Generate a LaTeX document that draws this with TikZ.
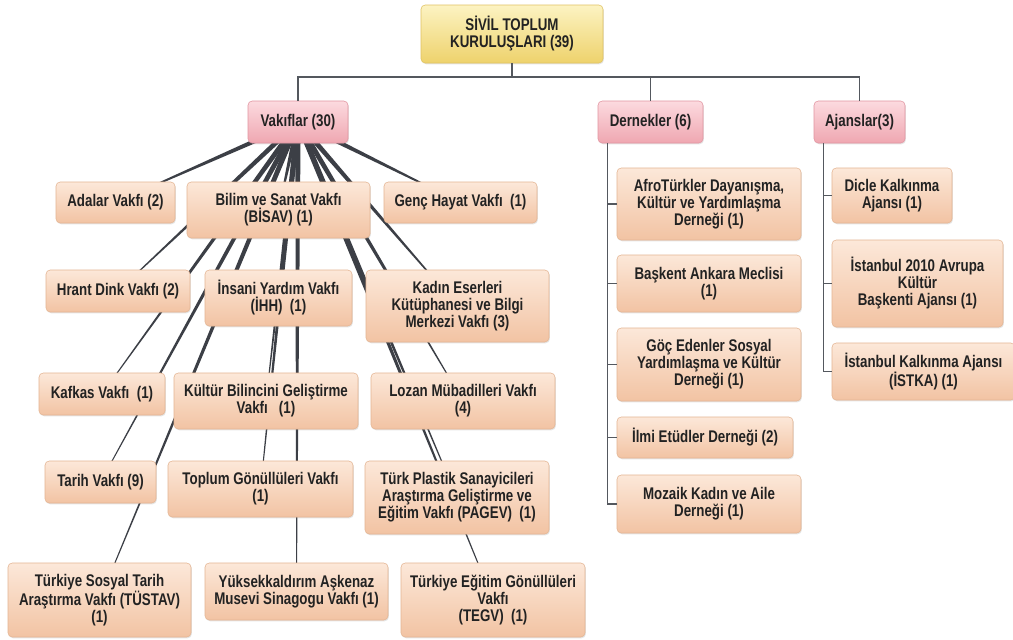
\documentclass[tikz,border=0pt]{standalone}
\usepackage{fontspec}
\setmainfont{Liberation Sans}[FakeStretch=0.79]
\usetikzlibrary{calc, shadows, backgrounds}

\definecolor{leafTop}{HTML}{FCE8D9}
\definecolor{leafBot}{HTML}{F2C3A3}
\definecolor{leafLine}{HTML}{E4B593}
\definecolor{grpTop}{HTML}{FCDADF}
\definecolor{grpBot}{HTML}{EFA7B1}
\definecolor{grpLine}{HTML}{E295A1}
\definecolor{rootTop}{HTML}{FCF3C2}
\definecolor{rootBot}{HTML}{EED26C}
\definecolor{rootLine}{HTML}{E0C262}
\definecolor{treeGray}{HTML}{54585E}
\definecolor{spokeGray}{HTML}{3C3F46}
\definecolor{inkGray}{HTML}{222222}

\begin{document}
\begin{tikzpicture}[
  x=0.025cm, y=-0.025cm,
  card/.style={rounded corners=3pt, inner sep=0pt, align=center, text=inkGray,
    font=\bfseries\fontsize{12}{12.1}\selectfont,
    drop shadow={shadow xshift=0.6pt, shadow yshift=-0.9pt, opacity=0.2}},
  sz/.style 2 args={minimum width=#1*0.025cm, minimum height=#2*0.025cm},
  root/.style={card, draw=rootLine, top color=rootTop, bottom color=rootBot},
  group/.style={card, draw=grpLine, top color=grpTop, bottom color=grpBot},
  leaf/.style={card, draw=leafLine, top color=leafTop, bottom color=leafBot},
  tree/.style={draw=treeGray, line width=0.9pt},
  spoke/.style={fill=spokeGray},
]

\useasboundingbox (0,0) rectangle (1013,639);

% =========================
% Top levels
% =========================
\node[root, sz={182}{58}] (top) at (512,34) {SİVİL TOPLUM\\KURULUŞLARI (39)};
\coordinate (hbar) at (512,77);

\node[group, sz={100}{42}] (vak) at (298,122) {Vakıflar (30)};
\node[group, sz={105}{42}] (der) at (650.5,122) {Dernekler (6)};
\node[group, sz={91}{42}]  (ajn) at (859.5,122) {Ajanslar(3)};

\draw[tree] (top.south) -- (hbar) -| (vak.north);
\draw[tree] (hbar) -| (der.north);
\draw[tree] (hbar) -| (ajn.north);

% =========================
% Vakiflar (15 children)
% =========================
\node[leaf, sz={119}{41}] (adalar) at (115.5,202.5) {Adalar Vakfı (2)};
\node[leaf, sz={183}{56}] (bisav)  at (278.5,210)   {Bilim ve Sanat Vakfı\\(BİSAV) (1)};
\node[leaf, sz={153}{41}] (genc)   at (460.5,202.5) {Genç Hayat Vakfı~ (1)};

\node[leaf, sz={144}{42}] (hrant)  at (118,291)   {Hrant Dink Vakfı (2)};
\node[leaf, sz={147}{56}] (ihh)    at (278.5,298) {İnsani Yardım Vakfı\\(İHH)~ (1)};
\node[leaf, sz={183}{72}] (kadin)  at (457.5,306) {Kadın Eserleri\\Kütüphanesi ve Bilgi\\Merkezi Vakfı (3)};

\node[leaf, sz={126}{42}] (kafkas) at (102,394) {Kafkas Vakfı~ (1)};
\node[leaf, sz={184}{56}] (kultur) at (266,401) {Kültür Bilincini Geliştirme\\Vakfı~~ (1)};
\node[leaf, sz={184}{56}] (lozan)  at (463,401) {Lozan Mübadilleri Vakfı\\(4)};

\node[leaf, sz={111}{42}] (tarih)   at (100.5,482) {Tarih Vakfı (9)};
\node[leaf, sz={185}{56}] (toplum)  at (260.5,489) {Toplum Gönüllüleri Vakfı\\(1)};
\node[leaf, sz={184}{73}] (plastik) at (457,497.5) {Türk Plastik Sanayicileri\\Araştırma Geliştirme ve\\Eğitim Vakfı (PAGEV)~ (1)};

\node[leaf, sz={183}{74}] (tustav) at (99.5,600)  {Türkiye Sosyal Tarih\\Araştırma Vakfı (TÜSTAV)\\(1)};
\node[leaf, sz={183}{57}] (yuksek) at (296.5,591.5) {Yüksekkaldırım Aşkenaz\\Musevi Sinagogu Vakfı (1)};
\node[leaf, sz={184}{74}] (tegv)   at (493,600)   {Türkiye Eğitim Gönüllüleri\\Vakfı\\(TEGV)~ (1)};

% tapered spokes, centre to centre, behind the cards
\begin{scope}[on background layer]
  \fill[white] (0,0) rectangle (1013,639);
  \foreach \c in {adalar,bisav,genc,hrant,ihh,kadin,kafkas,kultur,lozan,
                  tarih,toplum,plastik,tustav,yuksek,tegv} {
    \fill[spoke] ($(vak.center)!1.9pt!90:(\c.center)$)
      -- ($(\c.center)!0.25pt!-90:(vak.center)$)
      -- ($(\c.center)!0.25pt!90:(vak.center)$)
      -- ($(vak.center)!1.9pt!-90:(\c.center)$) -- cycle;
  }
\end{scope}

% =========================
% Dernekler
% =========================
\node[leaf, sz={184}{72}] (afro)    at (709,204)   {AfroTürkler Dayanışma,\\Kültür ve Yardımlaşma\\Derneği (1)};
\node[leaf, sz={184}{57}] (baskent) at (709,283.5) {Başkent Ankara Meclisi\\(1)};
\node[leaf, sz={184}{73}] (goc)     at (709,364.5) {Göç Edenler Sosyal\\Yardımlaşma ve Kültür\\Derneği (1)};
\node[leaf, sz={176}{41}] (ilmi)    at (705,437.5) {İlmi Etüdler Derneği (2)};
\node[leaf, sz={184}{58}] (mozaik)  at (709,504)   {Mozaik Kadın ve Aile\\Derneği (1)};

\foreach \c in {afro,baskent,goc,ilmi,mozaik}
  \draw[tree] ([xshift=0.25cm]der.south west) |- (\c.west);

% =========================
% Ajanslar
% =========================
\node[leaf, sz={120}{55}] (dicle)   at (892,195.5)   {Dicle Kalkınma\\Ajansı (1)};
\node[leaf, sz={171}{87}] (ist2010) at (917.5,283.5) {İstanbul 2010 Avrupa\\Kültür\\Başkenti Ajansı (1)};
\node[leaf, sz={183}{57}] (istka)   at (923.5,371.5) {İstanbul Kalkınma Ajansı\\(İSTKA) (1)};

\foreach \c in {dicle,ist2010,istka}
  \draw[tree] ([xshift=0.25cm]ajn.south west) |- (\c.west);

\end{tikzpicture}
\end{document}
